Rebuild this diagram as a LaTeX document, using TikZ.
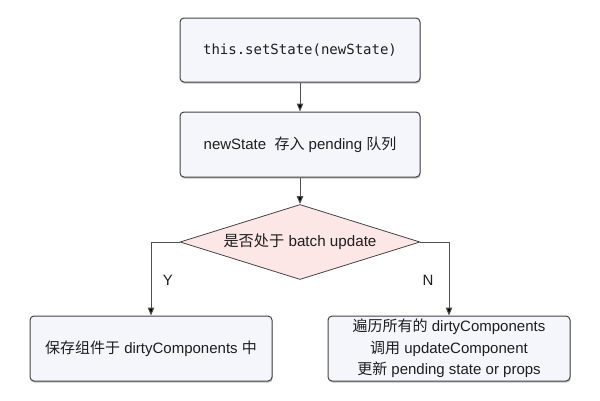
\documentclass[tikz,border=0pt]{standalone}
\usepackage{fontspec}
\setmainfont{Liberation Sans}
\setmonofont{DejaVu Sans Mono}
\newfontfamily\cjk{Noto Sans CJK SC}
\usetikzlibrary{shapes.geometric,arrows.meta,shadows}
\definecolor{boxfill}{HTML}{F5F5FC}
\definecolor{diafill}{HTML}{FDE6E6}
\definecolor{edge}{HTML}{444444}
\definecolor{conn}{HTML}{505050}
\definecolor{txt}{HTML}{1E1E1E}
\begin{document}
\begin{tikzpicture}[x=1pt,y=-1pt,
  shad/.style={drop shadow={shadow xshift=0.6pt,shadow yshift=-1.6pt,fill=black!45,opacity=0.55}},
  procbox/.style={draw=edge,line width=1pt,fill=boxfill,rounded corners=4pt,shad,
    minimum width=240pt,minimum height=64pt,inner sep=0pt,text=txt,
    font=\fontsize{15pt}{21.5pt}\selectfont,align=center},
  decision/.style={diamond,draw=edge,line width=0.8pt,fill=diafill,aspect=3.24,
    minimum width=240pt,minimum height=75pt,inner sep=0pt,text=txt,
    font=\fontsize{15.2pt}{17pt}\selectfont},
  conn/.style={draw=conn,line width=1pt,-{Triangle[length=8pt,width=6.5pt,fill=black]}},
  lbl/.style={text=txt,font=\fontsize{15pt}{17pt}\selectfont}]
\useasboundingbox (0,0) rectangle (600,400);
\node[procbox,minimum height=64pt] (b1) at (300,50) {\ttfamily\fontsize{14pt}{16pt}\selectfont this.setState(newState)};
\node[procbox,minimum height=65pt] (b2) at (300,144.5) {newState\ \ {\cjk 存入} pending {\cjk 队列}};
\node[decision] (d) at (300,242) {{\cjk 是否处于} batch update};
\node[procbox,minimum width=242pt,minimum height=65pt] (b3) at (151,348.5) {{\cjk 保存组件于} dirtyComponents {\cjk 中}};
\node[procbox,minimum width=242pt,minimum height=65pt] (b4) at (449,348.5) {{\cjk 遍历所有的} dirtyComponents\\{\cjk 调用} updateComponent\\{\cjk 更新} pending state or props};
\draw[conn] (b1) -- (b2);
\draw[conn] (b2) -- (d);
\draw[conn] (d.west) -| (b3.north);
\draw[conn] (d.east) -| (b4.north);
\node[lbl] (y) at (168,280) {Y};
\node[lbl] (n) at (428,280) {N};
\end{tikzpicture}
\end{document}
